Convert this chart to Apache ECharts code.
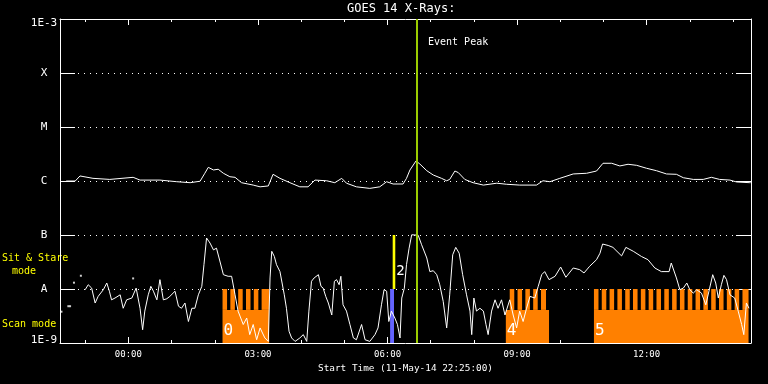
<!DOCTYPE html>
<html><head><meta charset="utf-8">
<script src="https://cdn.jsdelivr.net/npm/echarts@6/dist/echarts.min.js"></script>
<style>html,body{margin:0;padding:0;background:#000;}#c{width:768px;height:384px;}</style>
</head><body><div id="c"></div><script>
// ---- time axis: hours relative to 00:00 on 12-May-14 (start 22:25 on 11-May) ----
const X_MIN = -95 / 60;          // 22:25
const X_MAX = 14 + 25 / 60;      // 14:25
const hourTicks = [-1,0,1,2,3,4,5,6,7,8,9,10,11,12,13,14];
const majorHours = [0, 3, 6, 9, 12];
const X_TITLE = 'Start Time (11-May-14 22:25:00)';
const TITLE = 'GOES 14 X-Rays:';

// ---- flux axis (W/m^2) ----
const FLUX_MIN = 1e-9, FLUX_MAX = 1e-3;
const decadeLabels = {'-3':'1E-3','-4':'X','-5':'M','-6':'C','-7':'B','-8':'A','-9':'1E-9'};

// ---- long channel (1-8 A) ----
const upperTime = [-1.44,-1.23,-1.12,-0.82,-0.43,0.11,0.27,0.73,1.12,1.43,
  1.66,1.77,1.85,1.97,2.08,2.20,2.35,2.47,2.62,2.89,
  3.05,3.24,3.35,3.51,3.74,3.97,4.16,4.32,4.59,4.78,
  4.94,5.05,5.28,5.59,5.82,5.98,6.13,6.36,6.44,6.52,
  6.66,6.75,6.91,7.06,7.25,7.37,7.44,7.56,7.64,7.79,
  7.98,8.22,8.53,8.76,9.06,9.45,9.60,9.76,9.99,10.30,
  10.61,10.84,10.99,11.19,11.38,11.57,11.77,12.00,12.23,12.46,
  12.69,12.85,13.08,13.31,13.50,13.69,13.93,14.08,14.39,14.41];
const upperFlux = [1.0e-6,1.0e-6,1.24e-6,1.12e-6,1.07e-6,1.17e-6,1.04e-6,1.04e-6,0.97e-6,0.93e-6,
  0.99e-6,1.39e-6,1.79e-6,1.60e-6,1.65e-6,1.39e-6,1.20e-6,1.17e-6,0.93e-6,0.84e-6,
  0.78e-6,0.81e-6,1.33e-6,1.12e-6,0.93e-6,0.78e-6,0.78e-6,1.04e-6,1.01e-6,0.93e-6,
  1.12e-6,0.91e-6,0.78e-6,0.73e-6,0.78e-6,0.97e-6,0.88e-6,0.88e-6,1.12e-6,1.60e-6,
  2.35e-6,2.06e-6,1.55e-6,1.29e-6,1.12e-6,1.01e-6,1.07e-6,1.53e-6,1.43e-6,1.07e-6,
  0.93e-6,0.84e-6,0.91e-6,0.87e-6,0.84e-6,0.84e-6,1.01e-6,0.97e-6,1.12e-6,1.35e-6,
  1.39e-6,1.53e-6,2.13e-6,2.13e-6,1.90e-6,2.04e-6,1.95e-6,1.72e-6,1.55e-6,1.35e-6,
  1.33e-6,1.15e-6,1.07e-6,1.07e-6,1.17e-6,1.07e-6,1.04e-6,0.96e-6,0.93e-6,0.93e-6];

// ---- short channel (0.5-4 A), flux in units of 1e-9 W/m^2 ----
const lowerTime = [-1.00,-0.93,-0.85,-0.77,-0.70,-0.58,-0.50,-0.44,-0.39,-0.31,
  -0.19,-0.12,-0.04,0.08,0.18,0.27,0.33,0.38,0.46,0.52,
  0.58,0.66,0.73,0.81,0.89,0.96,1.08,1.16,1.23,1.31,
  1.39,1.47,1.54,1.62,1.70,1.75,1.81,1.89,1.97,2.04,
  2.10,2.20,2.31,2.39,2.47,2.54,2.66,2.74,2.81,2.89,
  2.97,3.05,3.16,3.24,3.28,3.32,3.38,3.43,3.51,3.61,
  3.66,3.72,3.78,3.86,3.97,4.05,4.13,4.18,4.24,4.30,
  4.40,4.46,4.51,4.57,4.63,4.71,4.77,4.82,4.88,4.92,
  4.97,5.05,5.13,5.21,5.28,5.40,5.48,5.59,5.71,5.78,
  5.86,5.92,5.98,6.03,6.09,6.17,6.23,6.29,6.33,6.39,
  6.44,6.50,6.56,6.59,6.71,6.79,6.91,6.98,7.06,7.14,
  7.21,7.29,7.37,7.44,7.51,7.58,7.66,7.74,7.83,7.91,
  7.95,8.00,8.06,8.14,8.22,8.28,8.33,8.41,8.49,8.56,
  8.64,8.72,8.83,8.91,8.99,9.06,9.14,9.22,9.30,9.41,
  9.49,9.57,9.64,9.74,9.88,10.01,10.13,10.30,10.45,10.55,
  10.68,10.84,10.92,10.98,11.11,11.22,11.42,11.52,11.69,11.88,
  12.03,12.19,12.34,12.52,12.57,12.69,12.77,12.85,12.93,13.00,
  13.08,13.16,13.27,13.37,13.46,13.53,13.60,13.66,13.73,13.79,
  13.85,13.93,14.04,14.12,14.20,14.25,14.31,14.37];
const lowerFluxNano = [9.7,12.0,10.4,5.5,7.3,9.7,12.9,9.1,6.3,6.8,
  7.8,4.4,6.3,6.8,10.4,4.4,1.76,3.9,7.8,11.2,
  9.1,6.3,14.9,6.3,6.6,7.3,9.1,4.8,4.4,5.5,
  2.5,4.4,4.4,7.8,11.2,28.2,88,71,53,57,
  37.5,18.4,17.2,17.2,7.8,3.9,2.2,2.9,1.43,2.2,
  1.15,1.9,1.24,1.07,16,49.9,40,28.2,21,7.8,
  4.4,1.65,1.24,1.07,1.24,1.43,1.07,3.9,13.9,16,
  18.4,11.2,10.4,7.3,5.5,3.3,13.9,14.9,12.0,17.2,
  5.1,3.9,2.2,1.24,1.15,2.2,1.15,1.07,1.43,1.9,
  5.1,9.7,9.1,2.5,3.9,2.9,2.2,1.24,6.8,10.4,
  28.2,57,101,109,99,66,37.5,21,21.8,18.4,
  12.0,5.9,1.9,7.8,43,59,46,18.4,7.8,3.9,
  1.43,6.8,3.9,4.4,3.9,2.2,1.43,3.9,6.3,4.4,
  6.3,3.3,6.3,3.3,1.9,3.9,2.5,4.4,7.3,6.8,
  11.2,18.4,21,14.9,17.2,25.5,16.5,24.5,22.8,19.8,
  26.3,34.9,46,68,64,59,41,59,50,40,
  34.9,24.5,21,21,30.3,16,9.7,10.4,12.9,9.7,
  8.4,9.7,8.4,5.1,10.4,18.4,12.9,6.8,12.0,17.9,
  14.9,7.8,6.8,3.9,2.2,1.43,5.5,4.4];
// isolated short-channel samples
const dotTime = [-1.55,-1.39,-1.35,-1.26,-1.10,0.11];
const dotFluxNano = [3.8,4.8,4.8,13.1,17.6,15.7];

// ---- scan mode intervals ----
const scanStart = [2.18, 8.74, 10.78];
const scanEnd = [3.26, 9.74, 14.36];
const scanTeethStart = [2.18, 8.83, 10.78];
const scanTeethEnd = [3.26, 9.67, 14.36];
const scanLabels = ['0', '4', '5'];
const SCAN_CYCLE = 0.181;     // hours per scan cycle
const SCAN_DUTY = 0.58;
const SCAN_BAND_TOP = 1e-8;
const SCAN_SOLID_TOP = 4.1e-9;
const STARE_BAND_TOP = 1e-7;

// ---- sit & stare event ----
const stareBlueStart = [6.06], stareBlueEnd = [6.15];
const stareYellowStart = [6.12], stareYellowEnd = [6.18];
const stareLabels = ['2'];

const eventPeakTime = 6.67;

const FONT = '"DejaVu Sans Mono", monospace';
const ORANGE = '#ff8000';

function fmtHour(v) {
  const h = ((Math.round(v) % 24) + 24) % 24;
  return (h < 10 ? '0' : '') + h + ':00';
}

const upperData = upperTime.map((t, i) => [t, upperFlux[i]]);
const lowerData = lowerTime.map((t, i) => [t, lowerFluxNano[i] * 1e-9]);
const dotData = dotTime.map((t, i) => [t, dotFluxNano[i] * 1e-9]);
const scanData = scanStart.map((s, i) => [s, scanEnd[i], scanTeethStart[i], scanTeethEnd[i]]);
const stareData = stareBlueStart.map((s, i) => [s, stareBlueEnd[i], stareYellowStart[i], stareYellowEnd[i]]);

function xAxisDef(pos, ticks, len, withLine, withLabel) {
  const a = {
    type: 'value', min: X_MIN, max: X_MAX, position: pos,
    axisLine: {show: withLine, onZero: false, lineStyle: {color: '#fff', width: 1}},
    axisTick: {show: true, inside: true, length: len, customValues: ticks, lineStyle: {color: '#fff', width: 1}},
    axisLabel: {show: false},
    splitLine: {show: false}
  };
  if (withLabel) {
    a.axisLabel = {show: true, customValues: majorHours, formatter: fmtHour, color: '#fff',
      fontSize: 9, fontFamily: FONT, margin: 7};
    a.name = X_TITLE; a.nameLocation = 'middle'; a.nameGap = 20;
    a.nameTextStyle = {color: '#fff', fontSize: 9.4, fontFamily: FONT};
  }
  return a;
}

function yAxisDef(pos, withLabel, withSplit) {
  return {
    type: 'log', logBase: 10, min: FLUX_MIN, max: FLUX_MAX, position: pos,
    axisLine: {show: true, onZero: false, lineStyle: {color: '#fff', width: 1}},
    axisTick: {show: true, inside: true, length: 15, lineStyle: {color: '#fff', width: 1}},
    axisLabel: withLabel ? {
      show: true, margin: 16, align: 'center', color: '#fff', fontSize: 11, fontFamily: FONT,
      formatter: function (v) {
        const k = Math.round(Math.log10(v));
        const s = decadeLabels[String(k)] || '';
        if (k === -3) return '{top|' + s + '}';
        if (k === -9) return '{bot|' + s + '}';
        return '{n|' + s + '}';
      },
      rich: {
        top: {padding: [8, 0, 0, 0], color: '#fff', fontSize: 11, fontFamily: FONT},
        bot: {padding: [0, 0, 6, 0], color: '#fff', fontSize: 11, fontFamily: FONT},
        n: {color: '#fff', fontSize: 11, fontFamily: FONT}
      }
    } : {show: false},
    splitLine: {show: withSplit, lineStyle: {color: '#fff', width: 1, type: [1, 5]}}
  };
}

const chart = echarts.init(document.getElementById('c'), null, {renderer: 'canvas'});
chart.setOption({
  backgroundColor: '#000',
  animation: false,
  title: {text: TITLE, left: 347, top: 3, padding: 0,
    textStyle: {color: '#fff', fontSize: 12, fontWeight: 'normal', fontFamily: FONT}},
  grid: {left: 60, top: 19, width: 691, height: 324},
  xAxis: [
    xAxisDef('bottom', hourTicks, 3, true, true),
    xAxisDef('bottom', majorHours, 6, false, false),
    xAxisDef('top', hourTicks, 3, true, false),
    xAxisDef('top', majorHours, 6, false, false)
  ],
  yAxis: [yAxisDef('left', true, true), yAxisDef('right', false, false)],
  graphic: [
    {type: 'text', left: 2, top: 253, style: {text: 'Sit & Stare', fill: '#ffff00', font: '10px ' + FONT}},
    {type: 'text', left: 12, top: 266, style: {text: 'mode', fill: '#ffff00', font: '10px ' + FONT}},
    {type: 'text', left: 2, top: 319, style: {text: 'Scan mode', fill: '#ffff00', font: '10px ' + FONT}},
    {type: 'text', left: 428, top: 37, style: {text: 'Event Peak', fill: '#ffffff', font: '10px ' + FONT}}
  ],
  series: [
    {
      type: 'custom', name: 'Scan mode', xAxisIndex: 0, yAxisIndex: 0, z: 1,
      data: scanData, encode: {x: [0, 1]},
      renderItem: function (params, api) {
        const i = params.dataIndex;
        const s = api.value(0), e = api.value(1), ts = api.value(2), te = api.value(3);
        const pB = api.coord([s, FLUX_MIN]);
        const yB = pB[1];
        const yS = api.coord([s, SCAN_SOLID_TOP])[1];
        const yT = api.coord([s, SCAN_BAND_TOP])[1];
        const x0 = pB[0], x1 = api.coord([e, FLUX_MIN])[0];
        const ch = [{type: 'rect', shape: {x: x0, y: yS, width: x1 - x0, height: yB - yS}, style: {fill: ORANGE}}];
        for (let t = ts; t < te - 1e-6; t += SCAN_CYCLE) {
          let tEnd = t + SCAN_CYCLE * SCAN_DUTY;
          if (t + SCAN_CYCLE > te) tEnd = te;
          tEnd = Math.min(tEnd, te);
          const a = api.coord([t, FLUX_MIN])[0], b = api.coord([tEnd, FLUX_MIN])[0];
          ch.push({type: 'rect', shape: {x: a, y: yT, width: b - a, height: yS - yT}, style: {fill: ORANGE}});
        }
        ch.push({type: 'text', x: x0 + 1, y: yB - 4,
          style: {text: scanLabels[i], fill: '#ffffff', font: '16px ' + FONT, textAlign: 'left', textVerticalAlign: 'bottom'}});
        return {type: 'group', children: ch};
      }
    },
    {
      type: 'custom', name: 'Sit & Stare', xAxisIndex: 0, yAxisIndex: 0, z: 1,
      data: stareData, encode: {x: [0, 1]},
      renderItem: function (params, api) {
        const i = params.dataIndex;
        const bs = api.value(0), be = api.value(1), ys = api.value(2), ye = api.value(3);
        const yB = api.coord([bs, FLUX_MIN])[1];
        const yA = api.coord([bs, SCAN_BAND_TOP])[1];
        const yBB = api.coord([bs, STARE_BAND_TOP])[1];
        const xb0 = api.coord([bs, FLUX_MIN])[0], xb1 = api.coord([be, FLUX_MIN])[0];
        const xy0 = api.coord([ys, FLUX_MIN])[0], xy1 = api.coord([ye, FLUX_MIN])[0];
        return {type: 'group', children: [
          {type: 'rect', shape: {x: xb0, y: yA, width: xb1 - xb0, height: yB - yA}, style: {fill: '#6464ff'}},
          {type: 'rect', shape: {x: xy0, y: yBB, width: xy1 - xy0, height: yA - yBB}, style: {fill: '#ffff00'}},
          {type: 'text', x: xy1 + 1, y: yA - 11,
            style: {text: stareLabels[i], fill: '#ffffff', font: '14px ' + FONT, textAlign: 'left', textVerticalAlign: 'bottom'}}
        ]};
      }
    },
    {
      type: 'line', name: 'Long channel', xAxisIndex: 0, yAxisIndex: 0, z: 2,
      data: upperData, showSymbol: false, symbol: 'none',
      lineStyle: {color: '#ffffff', width: 1}
    },
    {
      type: 'line', name: 'Short channel', xAxisIndex: 0, yAxisIndex: 0, z: 2,
      data: lowerData, showSymbol: false, symbol: 'none',
      lineStyle: {color: '#ffffff', width: 1}
    },
    {
      type: 'scatter', name: 'Short samples', xAxisIndex: 0, yAxisIndex: 0, z: 2,
      data: dotData, symbol: 'rect', symbolSize: 2, itemStyle: {color: '#ffffff'},
      markLine: {
        silent: true, symbol: ['none', 'none'], label: {show: false},
        lineStyle: {color: '#9bcd00', width: 2, type: 'solid'},
        data: [{xAxis: eventPeakTime}]
      }
    }
  ]
});
</script></body></html>
